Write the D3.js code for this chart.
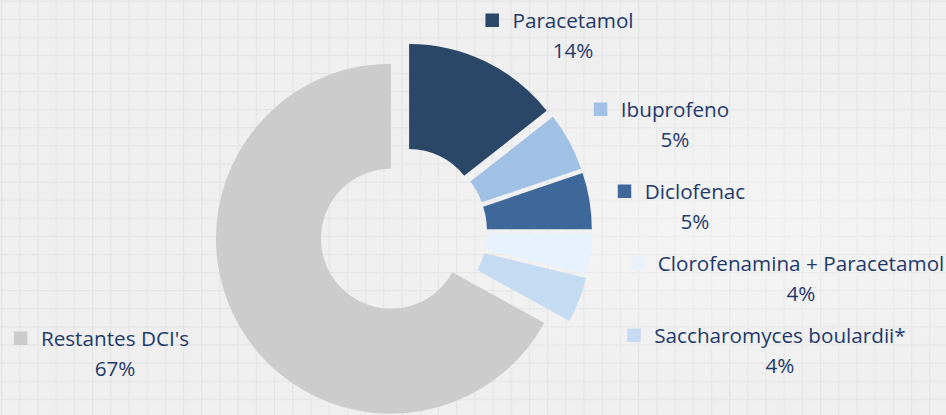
<!DOCTYPE html>
<html lang="pt">
<head>
<meta charset="utf-8">
<title>DCI</title>
<script src="https://cdn.jsdelivr.net/npm/d3@7"></script>
<style>
  html, body { margin: 0; padding: 0; background: #eeeeee; }
  #chart { width: 946px; height: 415px; overflow: hidden; }
  text { font-family: "Open Sans", sans-serif; fill: #1f3a6b; }
</style>
</head>
<body>
<div id="chart"></div>
<script>
// dados (ordem do gráfico, no sentido horário a partir das 12h)
var categorias = ["Paracetamol", "Ibuprofeno", "Diclofenac", "Clorofenamina + Paracetamol", "Saccharomyces boulardii*", "Restantes DCI's"];
var valores = [14.4, 5.4, 5.2, 3.8, 4.2, 67.0];
var rotulos = ["14%", "5%", "5%", "4%", "4%", "67%"];

var cores = ["#2b4768", "#a0c0e5", "#3d6899", "#e8f2fc", "#c5dbf2", "#cccccc"];

// posição dos rótulos (centro do texto, linha de base do nome)
var posRotulos = [[573, 28], [675, 117], [695, 199], [801, 271], [780, 343], [115, 346]];

var width = 946, height = 415;
var cx = 403, cy = 231.5, rOut = 175, rIn = 70, explode = 14;

var svg = d3.select("#chart").append("svg")
    .attr("width", width)
    .attr("height", height);

// fundo quadriculado
var defs = svg.append("defs");
var pat = defs.append("pattern")
    .attr("id", "grelha")
    .attr("patternUnits", "userSpaceOnUse")
    .attr("x", 1).attr("y", 0.5)
    .attr("width", 18.2).attr("height", 18.1);
pat.append("rect").attr("width", 18.2).attr("height", 18.1).attr("fill", "#efefef");
pat.append("path").attr("d", "M0,0.5H18.2M0.5,0V18.1")
    .attr("stroke", "#e4e4e4").attr("stroke-width", 1.4);

svg.append("rect").attr("width", width).attr("height", height).attr("fill", "url(#grelha)");

var grad = defs.append("radialGradient").attr("id", "brilho")
    .attr("cx", "78%").attr("cy", "55%").attr("r", "45%");
grad.append("stop").attr("offset", "0%").attr("stop-color", "#ffffff").attr("stop-opacity", 0.35);
grad.append("stop").attr("offset", "100%").attr("stop-color", "#ffffff").attr("stop-opacity", 0);
svg.append("rect").attr("width", width).attr("height", height).attr("fill", "url(#brilho)");

var pie = d3.pie().sort(null).value(function(d) { return d; });
var arc = d3.arc().innerRadius(rIn).outerRadius(rOut);

var arcos = pie(valores);

var g = svg.append("g").attr("transform", "translate(" + cx + "," + cy + ")");

g.selectAll(".fatia")
    .data(arcos)
  .enter().append("path")
    .attr("class", "fatia")
    .attr("d", arc)
    .attr("fill", function(d, i) { return cores[i]; })
    .attr("transform", function(d) {
        var a = (d.startAngle + d.endAngle) / 2;
        return "translate(" + (explode * Math.sin(a)) + "," + (-explode * Math.cos(a)) + ")";
    });

// rótulos com chave de legenda
var lab = svg.selectAll(".rotulo")
    .data(categorias)
  .enter().append("g")
    .attr("class", "rotulo")
    .attr("transform", function(d, i) { return "translate(" + posRotulos[i][0] + "," + posRotulos[i][1] + ")"; });

lab.append("text")
    .attr("text-anchor", "middle")
    .attr("font-size", 20.7)
    .text(function(d) { return d; });

lab.append("text")
    .attr("text-anchor", "middle")
    .attr("font-size", 20.7)
    .attr("y", 29.5)
    .text(function(d, i) { return rotulos[i]; });

lab.each(function(d, i) {
    var sel = d3.select(this);
    var w = sel.select("text").node().getComputedTextLength();
    sel.append("rect")
        .attr("x", -w / 2 - 27)
        .attr("y", -14.5)
        .attr("width", 13.5)
        .attr("height", 13.5)
        .attr("fill", cores[i]);
});
</script>
</body>
</html>
